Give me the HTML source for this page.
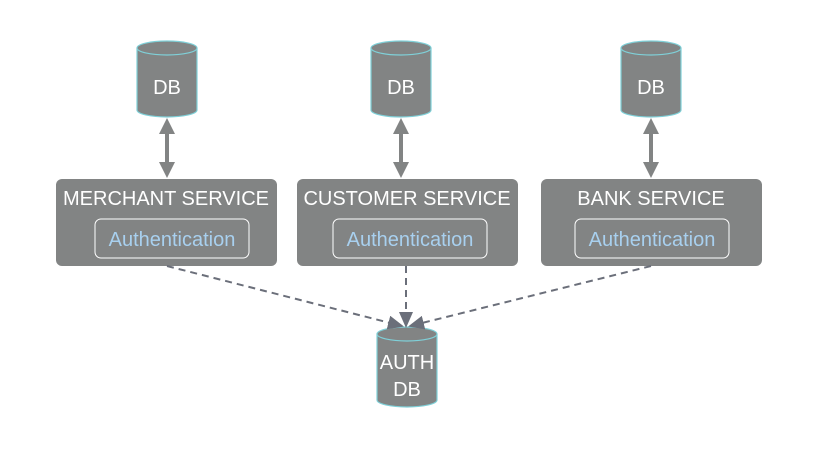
<!DOCTYPE html>
<html><head><style>html,body{margin:0;padding:0;background:#fff}</style></head><body>
<svg width="820" height="449" viewBox="0 0 820 449" xmlns="http://www.w3.org/2000/svg" font-family="'Liberation Sans', sans-serif">
<defs>
<marker id="ah" markerWidth="16" markerHeight="14" refX="14" refY="7" orient="auto" markerUnits="userSpaceOnUse"><path d="M0,0 L16,7 L0,14 z" fill="#6b6f7a"/></marker>
</defs>
<g fill="#828484" stroke="#7fd0d8" stroke-width="1.2">
<path d="M137,48 v62 a30,7 0 0 0 60,0 v-62"/><ellipse cx="167" cy="48" rx="30" ry="7"/>
<path d="M371,48 v62 a30,7 0 0 0 60,0 v-62"/><ellipse cx="401" cy="48" rx="30" ry="7"/>
<path d="M621,48 v62 a30,7 0 0 0 60,0 v-62"/><ellipse cx="651" cy="48" rx="30" ry="7"/>
<path d="M377,334 v66 a30,7 0 0 0 60,0 v-66"/><ellipse cx="407" cy="334" rx="30" ry="7"/>
</g>
<g fill="#fff" font-size="20" text-anchor="middle">
<text x="167" y="94">DB</text><text x="401" y="94">DB</text><text x="651" y="94">DB</text>
<text x="407" y="369">AUTH</text><text x="407" y="396">DB</text>
</g>
<g fill="#828484">
<rect x="56" y="179" width="221" height="87" rx="6"/>
<rect x="297" y="179" width="221" height="87" rx="6"/>
<rect x="541" y="179" width="221" height="87" rx="6"/>
</g>
<g fill="none" stroke="#fff" stroke-width="1">
<rect x="95" y="219" width="154" height="39" rx="6"/>
<rect x="333" y="219" width="154" height="39" rx="6"/>
<rect x="575" y="219" width="154" height="39" rx="6"/>
</g>
<g fill="#fff" font-size="20" text-anchor="middle">
<text x="166" y="205">MERCHANT SERVICE</text>
<text x="407" y="205">CUSTOMER SERVICE</text>
<text x="651" y="205">BANK SERVICE</text>
</g>
<g fill="#a8d0ef" font-size="20" text-anchor="middle">
<text x="172" y="246">Authentication</text>
<text x="410" y="246">Authentication</text>
<text x="652" y="246">Authentication</text>
</g>
<g stroke="#828484" stroke-width="4" fill="#828484">
<line x1="167" y1="130" x2="167" y2="166"/><path d="M159,134 L167,118 L175,134z M159,162 L167,178 L175,162z" stroke="none"/>
<line x1="401" y1="130" x2="401" y2="166"/><path d="M393,134 L401,118 L409,134z M393,162 L401,178 L409,162z" stroke="none"/>
<line x1="651" y1="130" x2="651" y2="166"/><path d="M643,134 L651,118 L659,134z M643,162 L651,178 L659,162z" stroke="none"/>
</g>
<g stroke="#6b6f7a" stroke-width="2" stroke-dasharray="7,5" fill="none">
<line x1="167" y1="266" x2="402" y2="326" marker-end="url(#ah)"/>
<line x1="406" y1="266" x2="406" y2="326" marker-end="url(#ah)"/>
<line x1="651" y1="266" x2="410" y2="326" marker-end="url(#ah)"/>
</g>
</svg>
</body></html>
